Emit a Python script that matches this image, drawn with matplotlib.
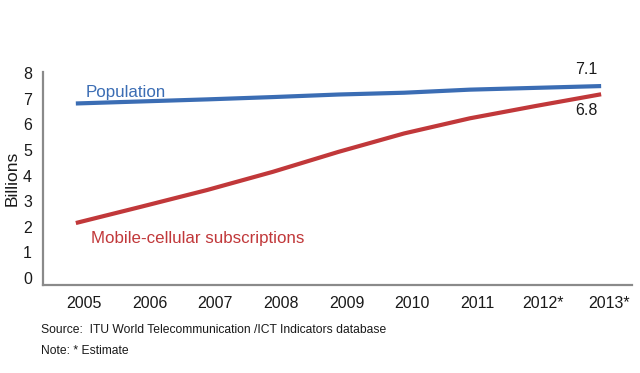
import matplotlib
matplotlib.use("Agg")
import matplotlib.pyplot as plt
import matplotlib.transforms as mtransforms

# data
years = [2005, 2006, 2007, 2008, 2009, 2010, 2011, 2012, 2013]
year_labels = ["2005", "2006", "2007", "2008", "2009", "2010", "2011", "2012*", "2013*"]
population = [6.82, 6.90, 6.98, 7.07, 7.17, 7.24, 7.36, 7.43, 7.50]
mobile = [2.15, 2.79, 3.44, 4.15, 4.93, 5.65, 6.24, 6.72, 7.18]
yticks = [0, 1, 2, 3, 4, 5, 6, 7, 8]

blue = "#3b6db4"
red = "#c1383a"
gray = "#8a8a8a"

plt.rcParams['font.family'] = ['Liberation Sans', 'DejaVu Sans']

fig = plt.figure(figsize=(6.4, 3.73), dpi=100)
ax = fig.add_axes([0.0672, 0.236, 0.9203, 0.571])

ax.plot(years, population, color=blue, linewidth=3, solid_capstyle='butt')
ax.plot(years, mobile, color=red, linewidth=3, solid_capstyle='butt')

ax.set_xlim(2004.5, 2013.47)
ax.set_ylim(-0.27, 8.05)

ax.set_xticks(years)
ax.set_xticklabels(year_labels, fontsize=11.5)
ax.set_yticks(yticks)
ax.set_yticklabels([str(v) for v in yticks], fontsize=11.5)
ax.tick_params(axis='both', length=0, colors='#1a1a1a')
ax.tick_params(axis='x', pad=8)
ax.tick_params(axis='y', pad=8)

# labels in the reference sit a little to the right of the data points
offset = mtransforms.ScaledTranslation(8 / 100, 0, fig.dpi_scale_trans)
for lab in ax.get_xticklabels():
    lab.set_transform(lab.get_transform() + offset)

for side in ['top', 'right']:
    ax.spines[side].set_visible(False)
for side in ['left', 'bottom']:
    ax.spines[side].set_color(gray)
    ax.spines[side].set_linewidth(1.6)

ax.set_ylabel("Billions", fontsize=12.5, color='#1a1a1a', labelpad=2)

# series labels
ax.text(2005.15, population[0] + 0.12, "Population", color=blue, fontsize=12.2, va='bottom')
ax.text(2005.23, 1.55, "Mobile-cellular subscriptions", color=red, fontsize=12.2, va='center')
ax.text(years[-1] - 0.23, population[-1] + 0.35, "7.1", color='#1a1a1a', fontsize=11.5,
        ha='center', va='bottom')
ax.text(years[-1] - 0.23, mobile[-1] - 0.35, "6.8", color='#1a1a1a', fontsize=11.5,
        ha='center', va='top')

# footnotes
fig.text(41 / 640, 1 - 330 / 373, "Source:  ITU World Telecommunication /ICT Indicators database",
         fontsize=8.7, va='center', color='#1a1a1a')
fig.text(41 / 640, 1 - 351 / 373, "Note: * Estimate",
         fontsize=8.7, va='center', color='#1a1a1a')

fig.savefig("out.png", dpi=100)
